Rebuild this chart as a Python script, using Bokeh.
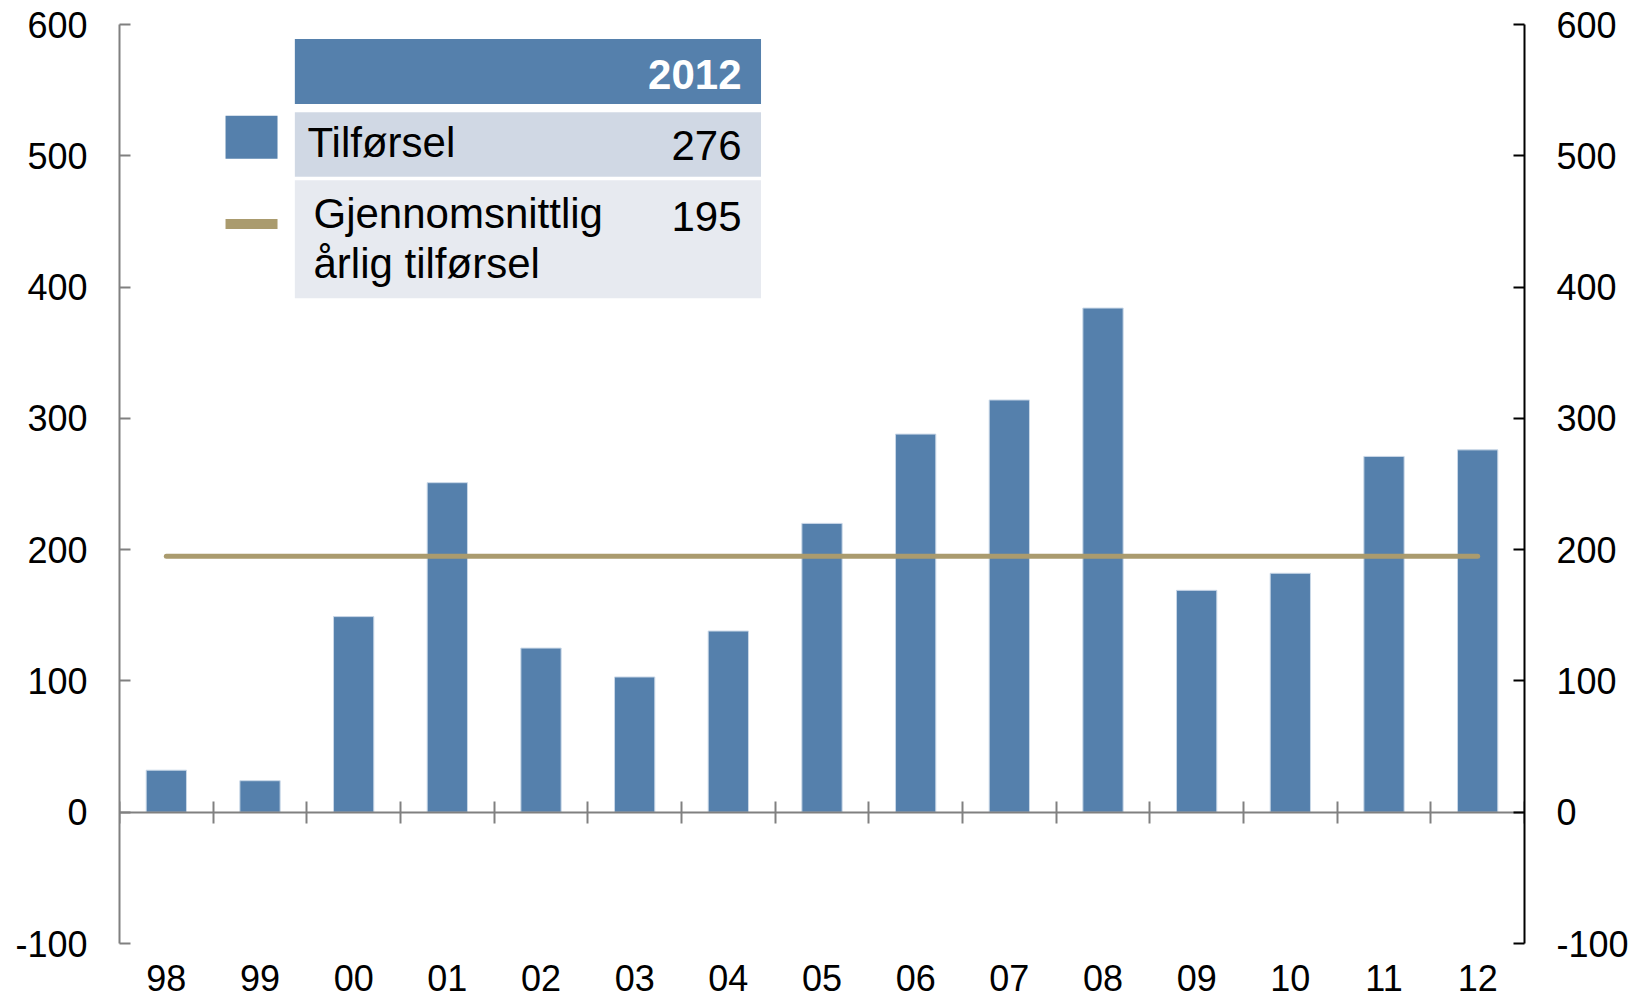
from bokeh.plotting import figure
from bokeh.models import Range1d, LinearAxis, FixedTicker, Label
from bokeh.embed import file_html
from bokeh.resources import INLINE

# ---------------- data ----------------
years = ["98", "99", "00", "01", "02", "03", "04", "05",
         "06", "07", "08", "09", "10", "11", "12"]
tilforsel = [32, 24, 149, 251, 125, 103, 138, 220,
             288, 314, 384, 169, 182, 271, 276]
avg_tilforsel = 195
y_ticks = [-100, 0, 100, 200, 300, 400, 500, 600]
y_tick_labels = ["-100", "0", "100", "200", "300", "400", "500", "600"]
legend_year = "2012"
label_bars = "Tilførsel"
label_avg_1 = "Gjennomsnittlig"
label_avg_2 = "årlig tilførsel"

# ---------------- styles ----------------
BAR = "#5580AC"
KHAKI = "#AA9B6E"
ROW1 = "#D0D8E4"
ROW2 = "#E7EAF0"
FONT = "Liberation Sans"
AX_GRAY = "#808080"

idx = list(range(len(years)))          # category positions
y_overrides = {t: s for t, s in zip(y_ticks, y_tick_labels)}

p = figure(width=1645, height=1005,
           x_range=Range1d(-0.5, len(years) - 0.5),
           y_range=Range1d(-100, 600),
           output_backend="svg", toolbar_location=None,
           x_axis_location=None,
           min_border_left=119, min_border_right=121,
           min_border_top=24, min_border_bottom=62)
p.outline_line_color = None
p.xgrid.visible = False
p.ygrid.visible = False
p.background_fill_color = "white"
p.border_fill_color = "white"

# bars and average line
p.vbar(x=idx, top=tilforsel, width=0.43, fill_color=BAR,
       line_color="#C9D7E7", line_width=1)
p.line(x=[idx[0], idx[-1]], y=[avg_tilforsel, avg_tilforsel],
       line_color=KHAKI, line_width=5, line_cap="round")

# left axis
ly = p.yaxis[0]
ly.ticker = FixedTicker(ticks=y_ticks)
ly.major_label_overrides = y_overrides
ly.major_tick_in = 11
ly.major_tick_out = 0
ly.minor_tick_in = 0
ly.minor_tick_out = 0
ly.axis_line_color = AX_GRAY
ly.axis_line_width = 2
ly.major_tick_line_color = AX_GRAY
ly.major_tick_line_width = 2
ly.major_label_text_font = FONT
ly.major_label_text_font_size = "36px"
ly.major_label_text_color = "black"
ly.major_label_standoff = 32

# right axis
ry = LinearAxis(ticker=FixedTicker(ticks=y_ticks),
                major_label_overrides=y_overrides,
                major_tick_in=11, major_tick_out=0,
                minor_tick_in=0, minor_tick_out=0,
                axis_line_color="black", axis_line_width=2,
                major_tick_line_color="black", major_tick_line_width=2,
                major_label_text_font=FONT, major_label_text_font_size="36px",
                major_label_text_color="black", major_label_standoff=32)
p.add_layout(ry, "right")

# zero line with ticks at category boundaries
boundaries = [i - 0.5 for i in range(len(years) + 1)]
zero_axis = LinearAxis(ticker=FixedTicker(ticks=boundaries),
                       major_label_overrides={b: "" for b in boundaries},
                       fixed_location=0,
                       major_tick_in=11, major_tick_out=11,
                       minor_tick_in=0, minor_tick_out=0,
                       axis_line_color=AX_GRAY, axis_line_width=2,
                       major_tick_line_color=AX_GRAY, major_tick_line_width=2)
p.add_layout(zero_axis, "below")

# category labels at the bottom
cat_axis = LinearAxis(ticker=FixedTicker(ticks=idx),
                      major_label_overrides={i: y for i, y in zip(idx, years)},
                      axis_line_color=None,
                      major_tick_line_color=None,
                      minor_tick_line_color=None,
                      major_tick_in=0, major_tick_out=0,
                      minor_tick_in=0, minor_tick_out=0,
                      major_label_text_font=FONT,
                      major_label_text_font_size="36px",
                      major_label_text_color="black",
                      major_label_standoff=21)
p.add_layout(cat_axis, "below")

# ---------------- legend table ----------------
TL, TR = 1.372, 6.349          # table left/right
SW_L, SW_R = 0.632, 1.187      # swatch left/right
TXT_L, TXT_L2, TXT_R = 1.507, 1.571, 6.141

p.quad(left=[TL, TL, TL], right=[TR, TR, TR],
       top=[588.9, 533.2, 481.4], bottom=[539.5, 484.1, 391.4],
       fill_color=[BAR, ROW1, ROW2], line_color=None)
p.quad(left=[SW_L], right=[SW_R], top=[530.4], bottom=[497.8],
       fill_color=BAR, line_color=None)
p.quad(left=[SW_L], right=[SW_R], top=[451.8], bottom=[444.2],
       fill_color=KHAKI, line_color=None)


def lab(x, y, text, align="left", color="black", bold=False):
    p.add_layout(Label(x=x, y=y, text=text,
                       text_font=FONT, text_font_size="42px",
                       text_align=align, text_baseline="alphabetic",
                       text_color=color,
                       text_font_style="bold" if bold else "normal"))


lab(TXT_R, 562.0, legend_year, align="right", color="white", bold=True)
lab(TXT_L, 509.8, label_bars)
lab(TXT_R, 507.8, str(tilforsel[-1]), align="right")
lab(TXT_L2, 456.0, label_avg_1)
lab(TXT_R, 454.0, str(avg_tilforsel), align="right")
lab(TXT_L2, 418.0, label_avg_2)

open("out.html", "w").write(file_html(p, INLINE))
